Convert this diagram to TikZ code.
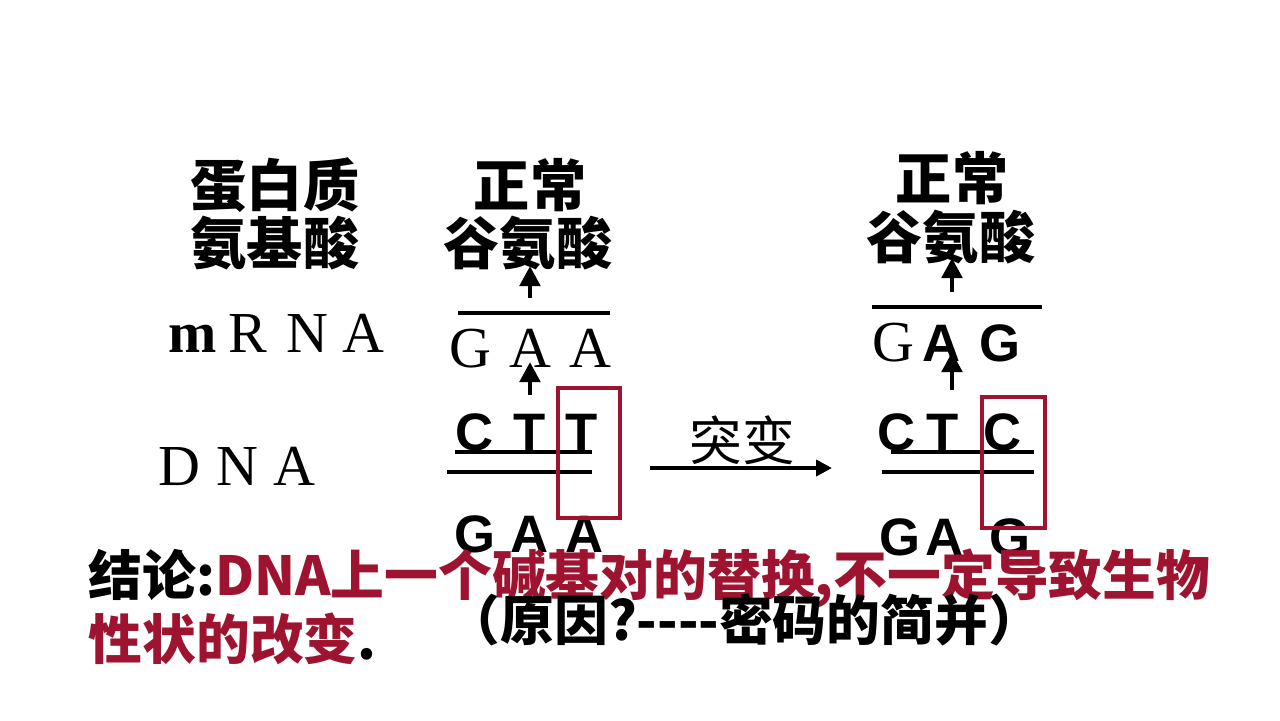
\documentclass[tikz,border=0pt]{standalone}
\usepackage{fontspec}
\usepackage{xcolor}
\usepackage{tikz}
\usetikzlibrary{arrows.meta,positioning}
\setmainfont{Liberation Serif}
\setsansfont{Liberation Sans}
\newfontfamily\cjk{Noto Sans CJK SC}
\definecolor{crimson}{RGB}{158,20,48}
\tikzset{
  title/.style={font=\cjk\bfseries\fontsize{16}{16}\selectfont, inner sep=0pt, align=center},
  basesf/.style={font=\sffamily\bfseries\fontsize{15}{15}\selectfont, inner sep=0pt, anchor=base},
  baserm/.style={font=\rmfamily\fontsize{16.5}{16.5}\selectfont, inner sep=0pt, anchor=base},
  uparrow/.style={line width=1.4pt, -{Triangle[width=2mm,length=2mm]}},
  strand/.style={line width=0.9pt},
  mutbox/.style={draw=crimson, line width=1.2pt},
  note/.style={font=\cjk\bfseries\fontsize{15.3}{15.3}\selectfont, inner sep=0pt, anchor=west}
}
\begin{document}
\begin{tikzpicture}[x=0.1mm,y=-0.1mm]
    \useasboundingbox (0,0) rectangle (1280,720);

    % Row labels
    \node[title] (protein) at (275,185) {蛋白质};
    \node[title] (amino) at (275,243) {氨基酸};
    \node[baserm, font=\rmfamily\bfseries\fontsize{16.5}{16.5}\selectfont] (m) at (193,352) {m};
    \foreach \l/\x in {R/248,N/307,A/363}
        \node[baserm] (rna\l) at (\x,352) {\l};
    \foreach \l/\x in {D/179,N/237,A/294}
        \node[baserm] (dna\l) at (\x,485) {\l};

    % Normal
    \node[title] (normA) at (530,185) {正常};
    \node[title] (gluA) at (528,243) {谷氨酸};
    \coordinate (gluAin) at (530,266);
    \coordinate (gaaTop) at (530,298);
    \draw[uparrow] (gaaTop) -- (gluAin);
    \draw[strand] (458,313) -- (610,313);
    \foreach \l/\x/\i in {G/470/1,A/530/2,A/590/3}
        \node[baserm] (mA\i) at (\x,367) {\l};
    \coordinate (cttTop) at (530,395);
    \coordinate (mA2in) at (530,362);
    \draw[uparrow] (cttTop) -- (mA2in);
    \foreach \l/\x/\i in {C/475/1,T/530/2,T/582/3}
        \node[basesf] (tA\i) at (\x,450) {\l};
    \draw[strand] (455,452) -- (592,452);
    \draw[strand] (447,472) -- (592,472);
    \foreach \l/\x/\i in {G/475/1,A/530/2,A/585/3}
        \node[basesf] (cA\i) at (\x,552) {\l};
    \draw[mutbox] (558,388) rectangle (620,518);

    % Mutation arrow
    \node[font=\cjk\fontsize{15}{15}\selectfont, inner sep=0pt] (mut) at (742,440) {突变};
    \coordinate (mutL) at (650,468);
    \coordinate (mutR) at (832,468);
    \draw[line width=1.2pt, -{Triangle[width=1.6mm,length=1.6mm]}] (mutL) -- (mutR);

    % Mutant
    \node[title] (normB) at (952,178) {正常};
    \node[title] (gluB) at (951,237) {谷氨酸};
    \coordinate (gluBin) at (952,258);
    \coordinate (gagTop) at (952,292);
    \draw[uparrow] (gagTop) -- (gluBin);
    \draw[strand] (872,307) -- (1042,307);
    \node[baserm] (mB1) at (893,361) {G};
    \node[basesf] (mB2) at (942,361) {A};
    \node[basesf] (mB3) at (1000,361) {G};
    \coordinate (ctcTop) at (952,390);
    \coordinate (mB2in) at (952,352);
    \draw[uparrow] (ctcTop) -- (mB2in);
    \foreach \l/\x/\i in {C/897/1,T/943/2,C/1003/3}
        \node[basesf] (tB\i) at (\x,450) {\l};
    \draw[strand] (891,452) -- (1034,452);
    \draw[strand] (882,472) -- (1034,472);
    \foreach \l/\x/\i in {G/900/1,A/945/2,G/1010/3}
        \node[basesf] (cB\i) at (\x,555) {\l};
    \draw[mutbox] (982,397) rectangle (1045,528);

    % Conclusion
    \node[note] (concl) at (88,578) {结论:\textcolor{crimson}{DNA上一个碱基对的替换,不一定导致生物}};
    \node[note] (concl2) at (88,639) {\textcolor{crimson}{性状的改变}.};
    \node[note] (reason) at (446,620) {（原因?----密码的简并）};
\end{tikzpicture}
\end{document}
